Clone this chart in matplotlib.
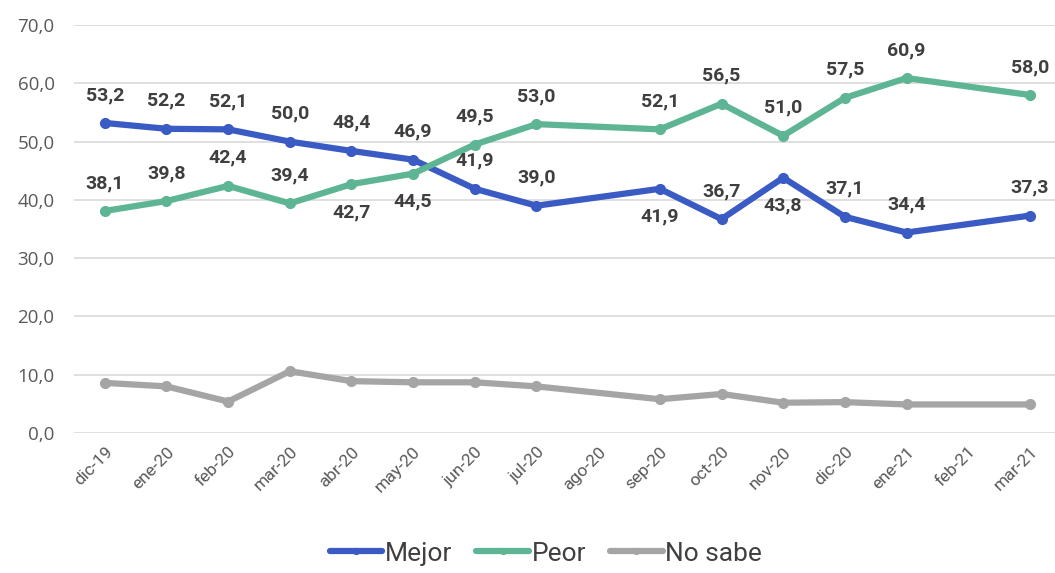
import numpy as np
import matplotlib
matplotlib.use("Agg")
import matplotlib.pyplot as plt

narrow = "Roboto"

months = ["dic-19", "ene-20", "feb-20", "mar-20", "abr-20", "may-20", "jun-20", "jul-20",
          "ago-20", "sep-20", "oct-20", "nov-20", "dic-20", "ene-21", "feb-21", "mar-21"]
mejor = [53.2, 52.2, 52.1, 50.0, 48.4, 46.9, 41.9, 39.0, np.nan, 41.9, 36.7, 43.8, 37.1, 34.4, np.nan, 37.3]
peor = [38.1, 39.8, 42.4, 39.4, 42.7, 44.5, 49.5, 53.0, np.nan, 52.1, 56.5, 51.0, 57.5, 60.9, np.nan, 58.0]
no_sabe = [8.6, 8.0, 5.4, 10.6, 8.9, 8.7, 8.7, 8.0, np.nan, 5.8, 6.7, 5.2, 5.3, 4.9, np.nan, 4.9]

# label placement: 1 above, -1 below
mejor_pos = [1, 1, 1, 1, 1, 1, 1, 1, 1, -1, 1, -1, 1, 1, 1, 1]
peor_pos = [1, 1, 1, 1, -1, -1, 1, 1, 1, 1, 1, 1, 1, 1, 1, 1]

fig = plt.figure(figsize=(10.55, 5.73), dpi=100)
ax = fig.add_axes([0.0701, 0.2443, 0.9353, 0.712])

x = np.arange(len(months))
series = [("Mejor", mejor, "#3A5AC4"), ("Peor", peor, "#5DB593"), ("No sabe", no_sabe, "#A5A5A5")]
for name, vals, col in series:
    v = np.array(vals, dtype=float)
    m = ~np.isnan(v)
    ax.plot(x[m], v[m], color=col, lw=4.5, marker="o", ms=7, label=name,
            solid_joinstyle="round", solid_capstyle="round", zorder=3)

for vals, pos in [(mejor, mejor_pos), (peor, peor_pos)]:
    for xi, v, p in zip(x, vals, pos):
        if np.isnan(v):
            continue
        ax.annotate(f"{v:.1f}".replace(".", ","), (xi, v), xytext=(0, 28 * p),
                    textcoords="offset pixels", ha="center", va="center",
                    fontsize=14, fontweight="bold", color="#3F3F3F", family=narrow, zorder=4)

ax.set_xlim(-0.5, 15.5)
ax.set_ylim(0, 70)
ax.set_yticks(np.arange(0, 71, 10))
ax.set_yticklabels([f"{t:.1f}".replace(".", ",") for t in np.arange(0, 71, 10)],
                   fontsize=13.5, color="#595959", family="Open Sans")
ax.set_xticks(x)
ax.set_xticklabels(months, rotation=45, ha="right", rotation_mode="anchor",
                   fontsize=12.5, color="#595959", family=narrow)
ax.tick_params(axis="both", length=0)
ax.tick_params(axis="y", pad=14)
ax.tick_params(axis="x", pad=8)
ax.grid(axis="y", color="#D9D9D9", lw=1.2)
ax.set_axisbelow(True)
for s in ax.spines.values():
    s.set_visible(False)

leg = fig.legend(loc="center", bbox_to_anchor=(0.5175, 0.034), ncol=3, frameon=False,
                 prop={"family": narrow, "size": 19}, handlelength=2.0, columnspacing=0.9,
                 handletextpad=0.1, labelcolor="#404040", markerscale=0.6)
for h in leg.legend_handles:
    h.set_linewidth(4.5)

fig.savefig("out.png", dpi=100)
